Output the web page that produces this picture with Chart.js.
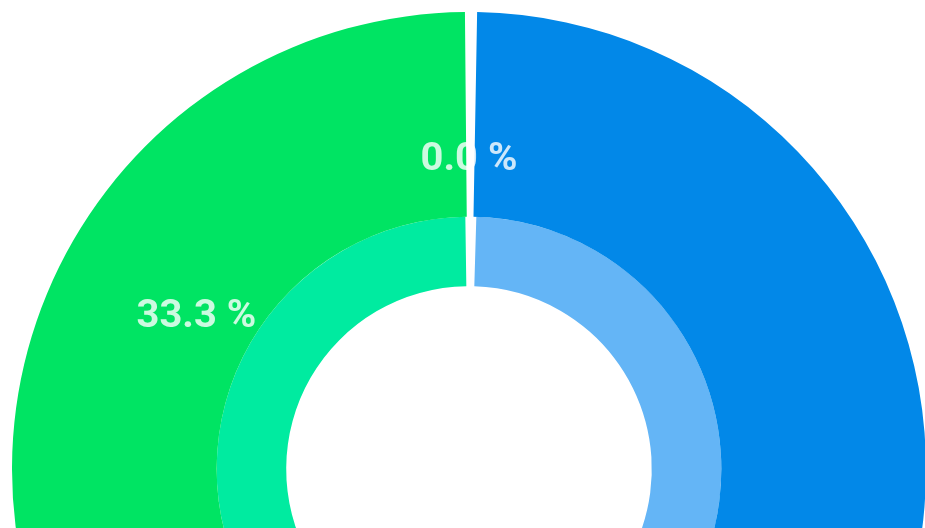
<!DOCTYPE html>
<html>
<head>
<meta charset="utf-8">
<script src="https://cdn.jsdelivr.net/npm/chart.js@4"></script>
<style>
  html, body { margin: 0; padding: 0; background: #fff; width: 925px; height: 528px; overflow: hidden; }
  #wrap { position: absolute; left: 12px; top: 12px; width: 914px; height: 914px; }
</style>
</head>
<body>
<div id="wrap"><canvas id="c"></canvas></div>
<script>
const categories = ['Blue', 'Green', 'Other'];
const outerValues = [2, 1, 0];
const innerValues = [2, 1, 0];
const outerColors = ['#0288E8', '#00E463', '#00E463'];
const innerColors = ['#64B5F6', '#00EBA0', '#00EBA0'];

const labelPlugin = {
  id: 'pctLabels',
  afterDatasetsDraw(chart) {
    const ctx = chart.ctx;
    const meta = chart.getDatasetMeta(0);
    const data = chart.data.datasets[0].data;
    const total = data.reduce((a, b) => a + b, 0);
    ctx.save();
    ctx.font = 'bold 38px Roboto, "Liberation Sans", sans-serif';
    ctx.fillStyle = 'rgba(255,255,255,0.8)';
    ctx.textAlign = 'center';
    ctx.textBaseline = 'middle';
    meta.data.forEach((arc, i) => {
      const p = arc.getProps(['x', 'y', 'startAngle', 'endAngle', 'innerRadius', 'outerRadius'], true);
      const a = (p.startAngle + p.endAngle) / 2;
      const r = p.innerRadius + (p.outerRadius - p.innerRadius) * 0.32;
      const x = p.x + Math.cos(a) * r;
      const y = p.y + Math.sin(a) * r + 6;
      const txt = (data[i] / total * 100).toFixed(1) + ' %';
      ctx.save();
      ctx.translate(x, y);
      ctx.scale(1.05, 1);
      ctx.fillText(txt, 0, 0);
      ctx.restore();
    });
    ctx.restore();
  }
};

new Chart(document.getElementById('c'), {
  type: 'doughnut',
  data: {
    labels: categories,
    datasets: [
      { data: outerValues, backgroundColor: outerColors, borderWidth: 0, weight: 206 },
      { data: innerValues, backgroundColor: innerColors, borderWidth: 0, weight: 70 }
    ]
  },
  options: {
    responsive: true,
    maintainAspectRatio: false,
    animation: false,
    cutout: '39.6%',
    spacing: 6,
    layout: { padding: 0 },
    plugins: { legend: { display: false }, tooltip: { enabled: false } }
  },
  plugins: [labelPlugin]
});
</script>
</body>
</html>
